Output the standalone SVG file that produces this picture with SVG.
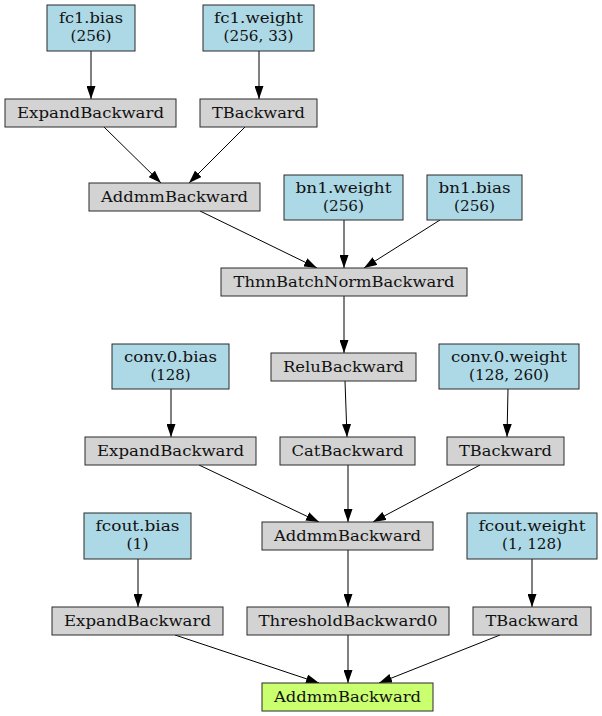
<svg xmlns="http://www.w3.org/2000/svg" width="602" height="716" viewBox="0 0 602 716">
<defs>
<style>
.n rect{stroke:#2a2a2a;stroke-width:1}
.p rect{fill:#add8e6}
.o rect{fill:#d3d3d3}
.f rect{fill:#caff70}
text{font-family:"DejaVu Serif",serif;font-size:15px;fill:#111;text-anchor:middle}
#edges line{stroke:#000;stroke-width:1;marker-end:url(#ah)}
</style>
<marker id="ah" markerUnits="userSpaceOnUse" markerWidth="13" markerHeight="9" refX="13" refY="4.5" orient="auto" viewBox="0 0 13 9">
<path d="M0,0 L13,4.5 L0,9 z" fill="#000"/>
</marker>
</defs>
<rect width="602" height="716" fill="#fff"/>
<g id="edges">
<line x1="91" y1="51" x2="91" y2="99"/>
<line x1="259" y1="51" x2="259" y2="99"/>
<line x1="104" y1="127" x2="161" y2="183"/>
<line x1="245" y1="127" x2="189" y2="183"/>
<line x1="200" y1="211" x2="317" y2="268"/>
<line x1="344" y1="220" x2="344" y2="268"/>
<line x1="440" y1="220" x2="364" y2="268"/>
<line x1="344" y1="296" x2="344" y2="353"/>
<line x1="345" y1="381" x2="347" y2="437"/>
<line x1="171" y1="389" x2="171" y2="437"/>
<line x1="508" y1="389" x2="507" y2="437"/>
<line x1="199" y1="465" x2="319" y2="522"/>
<line x1="348" y1="465" x2="348" y2="522"/>
<line x1="480" y1="465" x2="373" y2="522"/>
<line x1="138" y1="559" x2="138" y2="607"/>
<line x1="532" y1="559" x2="532" y2="607"/>
<line x1="348" y1="550" x2="348" y2="607"/>
<line x1="175" y1="635" x2="319" y2="683"/>
<line x1="348" y1="635" x2="348" y2="683"/>
<line x1="500" y1="635" x2="379" y2="683"/>
</g>
<g id="fc1_bias" class="n p"><rect x="47" y="5" width="88" height="46"/><text x="91" y="23" textLength="64" lengthAdjust="spacingAndGlyphs">fc1.bias</text><text x="91" y="41" textLength="41" lengthAdjust="spacingAndGlyphs">(256)</text></g>
<g id="fc1_weight" class="n p"><rect x="203" y="5" width="111" height="46"/><text x="258.5" y="23" textLength="89" lengthAdjust="spacingAndGlyphs">fc1.weight</text><text x="258.5" y="41" textLength="70" lengthAdjust="spacingAndGlyphs">(256, 33)</text></g>
<g id="expand1" class="n o"><rect x="5" y="99" width="171" height="28"/><text x="90.5" y="118" textLength="147" lengthAdjust="spacingAndGlyphs">ExpandBackward</text></g>
<g id="tback1" class="n o"><rect x="200" y="99" width="117" height="28"/><text x="258.5" y="118" textLength="93" lengthAdjust="spacingAndGlyphs">TBackward</text></g>
<g id="addmm1" class="n o"><rect x="89" y="183" width="171" height="28"/><text x="174.5" y="202" textLength="147" lengthAdjust="spacingAndGlyphs">AddmmBackward</text></g>
<g id="bn1_weight" class="n p"><rect x="284" y="175" width="119" height="45"/><text x="343.5" y="193" textLength="96" lengthAdjust="spacingAndGlyphs">bn1.weight</text><text x="343.5" y="211" textLength="41" lengthAdjust="spacingAndGlyphs">(256)</text></g>
<g id="bn1_bias" class="n p"><rect x="427" y="175" width="95" height="45"/><text x="474.5" y="193" textLength="72" lengthAdjust="spacingAndGlyphs">bn1.bias</text><text x="474.5" y="211" textLength="41" lengthAdjust="spacingAndGlyphs">(256)</text></g>
<g id="bn" class="n o"><rect x="221" y="268" width="246" height="28"/><text x="344" y="287" textLength="221" lengthAdjust="spacingAndGlyphs">ThnnBatchNormBackward</text></g>
<g id="relu" class="n o"><rect x="271" y="353" width="145" height="28"/><text x="343.5" y="372" textLength="121" lengthAdjust="spacingAndGlyphs">ReluBackward</text></g>
<g id="conv_bias" class="n p"><rect x="112" y="344" width="117" height="45"/><text x="170.5" y="362" textLength="93" lengthAdjust="spacingAndGlyphs">conv.0.bias</text><text x="170.5" y="380" textLength="40" lengthAdjust="spacingAndGlyphs">(128)</text></g>
<g id="conv_weight" class="n p"><rect x="439" y="344" width="140" height="45"/><text x="509" y="362" textLength="116" lengthAdjust="spacingAndGlyphs">conv.0.weight</text><text x="509" y="380" textLength="80" lengthAdjust="spacingAndGlyphs">(128, 260)</text></g>
<g id="expand2" class="n o"><rect x="85" y="437" width="171" height="28"/><text x="170.5" y="456" textLength="147" lengthAdjust="spacingAndGlyphs">ExpandBackward</text></g>
<g id="cat" class="n o"><rect x="280" y="437" width="135" height="28"/><text x="347.5" y="456" textLength="112" lengthAdjust="spacingAndGlyphs">CatBackward</text></g>
<g id="tback2" class="n o"><rect x="447" y="437" width="117" height="28"/><text x="505.5" y="456" textLength="93" lengthAdjust="spacingAndGlyphs">TBackward</text></g>
<g id="addmm2" class="n o"><rect x="262" y="522" width="171" height="28"/><text x="347.5" y="541" textLength="147" lengthAdjust="spacingAndGlyphs">AddmmBackward</text></g>
<g id="fcout_bias" class="n p"><rect x="84" y="513" width="107" height="46"/><text x="137.5" y="531" textLength="84" lengthAdjust="spacingAndGlyphs">fcout.bias</text><text x="137.5" y="549" textLength="22" lengthAdjust="spacingAndGlyphs">(1)</text></g>
<g id="fcout_weight" class="n p"><rect x="467" y="513" width="130" height="46"/><text x="532" y="531" textLength="107" lengthAdjust="spacingAndGlyphs">fcout.weight</text><text x="532" y="549" textLength="60" lengthAdjust="spacingAndGlyphs">(1, 128)</text></g>
<g id="expand3" class="n o"><rect x="52" y="607" width="171" height="28"/><text x="137.5" y="626" textLength="147" lengthAdjust="spacingAndGlyphs">ExpandBackward</text></g>
<g id="thresh" class="n o"><rect x="247" y="607" width="202" height="28"/><text x="348" y="626" textLength="179" lengthAdjust="spacingAndGlyphs">ThresholdBackward0</text></g>
<g id="tback3" class="n o"><rect x="473" y="607" width="118" height="28"/><text x="532" y="626" textLength="93" lengthAdjust="spacingAndGlyphs">TBackward</text></g>
<g id="out" class="n f"><rect x="262" y="683" width="171" height="28"/><text x="347.5" y="702" textLength="147" lengthAdjust="spacingAndGlyphs">AddmmBackward</text></g>
</svg>
